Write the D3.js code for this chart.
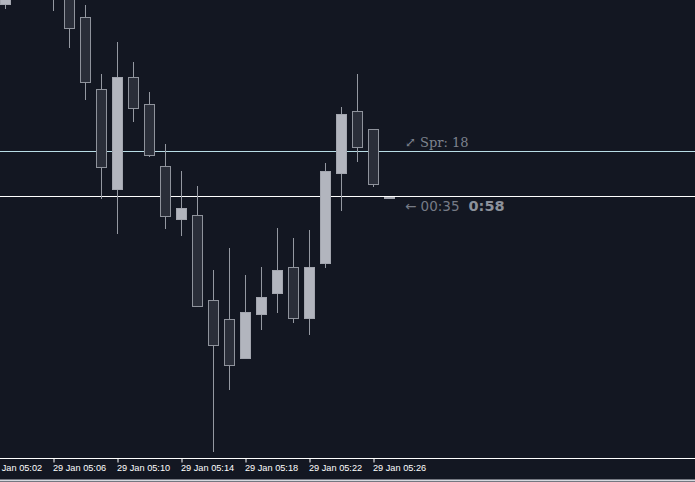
<!DOCTYPE html>
<html>
<head>
<meta charset="utf-8">
<script src="https://cdn.jsdelivr.net/npm/d3@7"></script>
<style>
  html, body { margin: 0; padding: 0; background: #131722; overflow: hidden; }
  svg { display: block; }
</style>
</head>
<body>
<svg id="chart"></svg>
<script>
// one-minute bars, 29 Jan
const times = ["05:03", "05:04", "05:05", "05:06", "05:07", "05:08", "05:09", "05:10",
  "05:11", "05:12", "05:13", "05:14", "05:15", "05:16", "05:17", "05:18", "05:19",
  "05:20", "05:21", "05:22", "05:23", "05:24", "05:25", "05:26", "05:27"];
const opens = [2047.22, 2047.80, 2047.50, 2047.55, 2047.36, 2047.09, 2046.37, 2045.37,
  2046.49, 2046.22, 2045.60, 2045.07, 2045.11, 2044.26, 2044.07, 2043.68, 2044.12,
  2044.33, 2044.59, 2044.08, 2044.63, 2045.53, 2046.15, 2045.97, 2045.29];
const highs = [2047.46, 2047.88, 2047.62, 2047.60, 2047.42, 2047.21, 2046.52, 2046.84,
  2046.64, 2046.34, 2045.82, 2045.55, 2045.40, 2044.56, 2044.78, 2044.51, 2044.59,
  2044.98, 2044.88, 2044.96, 2045.63, 2046.19, 2046.52, 2045.97, 2045.29];
const lows = [2047.17, 2047.40, 2047.32, 2047.15, 2046.78, 2046.26, 2045.27, 2044.92,
  2046.04, 2045.69, 2044.97, 2044.90, 2044.20, 2042.74, 2043.36, 2043.68, 2043.96,
  2044.13, 2044.03, 2043.91, 2044.58, 2045.15, 2045.64, 2045.39, 2045.29];
const closes = [2047.41, 2047.50, 2047.38, 2047.30, 2046.98, 2046.44, 2045.59, 2046.49,
  2046.18, 2045.71, 2045.10, 2045.18, 2044.20, 2043.81, 2043.61, 2044.14, 2044.29,
  2044.56, 2044.08, 2044.59, 2045.55, 2046.12, 2045.79, 2045.42, 2045.29];

const bidPrice = 2045.30;
const askPrice = 2045.75;
const spreadText = "Spr: 18";
const barTimer = "00:35";
const clockText = "0:58";

const tickTimes = ["05:02", "05:06", "05:10", "05:14", "05:18", "05:22", "05:26"];

const width = 695;
const height = 482;
const axisY = 458;

const svg = d3.select("#chart")
  .attr("width", width)
  .attr("height", height);

svg.append("rect")
  .attr("width", width)
  .attr("height", height)
  .attr("fill", "#131722");

// build the bars from the arrays
const toMin = t => { const p = t.split(":"); return +p[0] * 60 + +p[1]; };
const bars = times.map((t, i) => ({
  t: toMin(t), open: opens[i], high: highs[i], low: lows[i], close: closes[i]
}));

// 16px per minute
const x = d3.scaleLinear()
  .domain([toMin("05:03"), toMin("05:27")])
  .range([5.5, 389.5]);

const y = d3.scaleLinear()
  .domain([2042.74, 2047.26])
  .range([452, 0]);

const plot = svg.append("g");
plot.append("clipPath").attr("id", "clip")
  .append("rect").attr("width", width).attr("height", axisY);

const g = plot.append("g").attr("clip-path", "url(#clip)");

// bid / ask lines
g.append("line")
  .attr("x1", 0).attr("x2", width)
  .attr("y1", Math.round(y(askPrice)) + 0.5).attr("y2", Math.round(y(askPrice)) + 0.5)
  .attr("stroke", "#b9dde6").attr("stroke-width", 1);
g.append("line")
  .attr("x1", 0).attr("x2", width)
  .attr("y1", Math.round(y(bidPrice)) + 0.5).attr("y2", Math.round(y(bidPrice)) + 0.5)
  .attr("stroke", "#ffffff").attr("stroke-width", 1);

const candle = g.selectAll("g.candle")
  .data(bars)
  .join("g")
  .attr("class", "candle");

candle.append("line")
  .attr("x1", d => Math.round(x(d.t) - 0.5) + 0.5)
  .attr("x2", d => Math.round(x(d.t) - 0.5) + 0.5)
  .attr("y1", d => y(d.high))
  .attr("y2", d => y(d.low))
  .attr("stroke", "#9498a1")
  .attr("stroke-width", 1);

candle.append("rect")
  .attr("x", d => Math.round(x(d.t) - 0.5) - 5 + 0.5)
  .attr("width", 10)
  .attr("y", d => Math.round(y(Math.max(d.open, d.close))) + 0.5)
  .attr("height", d => Math.max(1, Math.round(Math.abs(y(d.open) - y(d.close)))))
  .attr("fill", d => d.close >= d.open ? "#b2b5be" : "#2a2e39")
  .attr("stroke", d => d.close >= d.open ? "#a3a6af" : "#8f939c")
  .attr("stroke-width", 1);

// labels at the right of the last bar
const labelX = 405;
svg.append("text")
  .attr("x", labelX).attr("y", y(askPrice) - 4)
  .attr("fill", "#7d838e")
  .attr("font-family", "'DejaVu Serif', 'Liberation Serif', serif")
  .attr("font-size", 13)
  .text("\u2922 " + spreadText);

const timerText = svg.append("text")
  .attr("x", labelX).attr("y", y(bidPrice) + 15)
  .attr("font-family", "'DejaVu Sans', sans-serif")
  .attr("font-size", 13.5);
timerText.append("tspan")
  .attr("fill", "#767b86")
  .text("\u2190 " + barTimer);
timerText.append("tspan")
  .attr("dx", 9)
  .attr("fill", "#8c919a")
  .attr("font-weight", "bold")
  .attr("font-size", 14.5)
  .text(clockText);

// time axis
const axis = d3.axisBottom(x)
  .tickValues(tickTimes.map(toMin))
  .tickSize(4)
  .tickFormat(v => "29 Jan " + tickTimes[tickTimes.map(toMin).indexOf(v)]);

const ax = svg.append("g")
  .attr("transform", `translate(0,${axisY + 0.5})`)
  .call(axis);

ax.select(".domain").remove();
ax.append("line")
  .attr("x1", 0).attr("x2", width)
  .attr("stroke", "#ffffff");
ax.selectAll(".tick line")
  .attr("stroke", "#ffffff")
  .attr("transform", d => `translate(${Math.round(x(d) - 0.5) + 0.5 - x(d)},0)`);
ax.selectAll(".tick text")
  .attr("fill", "#ffffff")
  .attr("text-anchor", "start")
  .attr("dy", 0)
  .attr("y", 12)
  .attr("x", -1)
  .attr("font-family", "'Liberation Sans', Arial, sans-serif")
  .attr("font-size", 9.2)
  .style("dominant-baseline", "auto");

svg.append("line")
  .attr("x1", 0).attr("x2", width)
  .attr("y1", 480.5).attr("y2", 480.5)
  .attr("stroke", "#d6d9df")
  .attr("stroke-width", 2);
</script>
</body>
</html>
